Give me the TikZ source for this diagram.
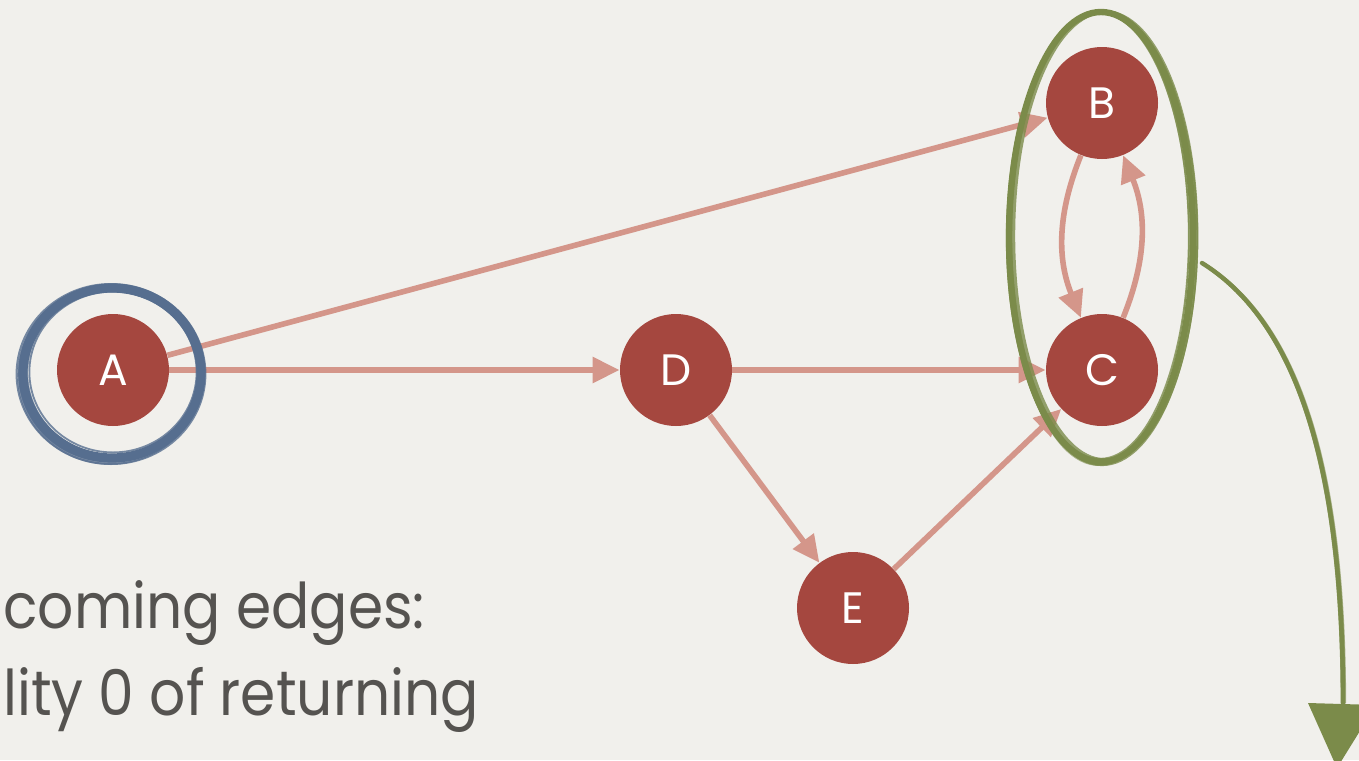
\documentclass[tikz,border=0pt]{standalone}
\usepackage{fontspec}
\setmainfont{Poppins}
\newfontfamily\captionfont{Poppins}[FakeStretch=0.9]
\usetikzlibrary{arrows.meta}
\definecolor{paper}{RGB}{241,240,236}
\definecolor{nodered}{RGB}{165,71,63}
\definecolor{edgepink}{RGB}{212,150,138}
\definecolor{ringblue}{RGB}{86,110,143}
\definecolor{brushgreen}{RGB}{123,139,74}
\definecolor{ink}{RGB}{85,83,80}
\tikzset{
  vertex/.style={circle, fill=nodered, minimum size=56pt, inner sep=0pt,
    text=white, font=\fontsize{22}{22}\selectfont},
  link/.style={draw=edgepink, line width=2.8pt,
    -{Triangle[length=13.5pt,width=12.5pt]}},
  caption/.style={anchor=base west, text=ink, inner sep=0pt,
    font=\captionfont\fontsize{31.5}{31.5}\selectfont},
}
\begin{document}
\begin{tikzpicture}[x=0.5pt,y=-0.5pt]
  % paper background and page frame
  \fill[paper] (0,0) rectangle (1359,760);
  \useasboundingbox (0,0) rectangle (1359,760);
  \clip (0,0) rectangle (1359,760);

  % graph nodes
  \node[vertex] (A) at (113,370) {A};
  \node[vertex] (D) at (676,370) {D};
  \node[vertex] (B) at (1102,103) {B};
  \node[vertex] (C) at (1102,370) {C};
  \node[vertex] (E) at (853,608) {E};

  % directed edges
  \draw[link] (A) -- (B);
  \draw[link] (A) -- (D);
  \draw[link] (D) -- (C);
  \draw[link] (D) -- (E);
  \draw[link] (E) -- (C);
  \draw[link] (B) to[bend right=22] (C);
  \draw[link] (C) to[bend right=22] (B);

  % caption lines
  \node[caption] (t1) at (3,628) {coming edges:};
  \node[caption] (t2) at (3,715) {lity 0 of returning};

  % blue brush ring around A
  \foreach \dx/\dy/\rx/\ry/\w/\o in {
      0/0/44.5/42.5/4.6/1,
      -1/1/47.2/45.0/1.0/0.8,
      1/-1/41.8/40.2/0.9/0.8,
      -2/2/45.5/44/1.8/0.7,
      2/0/43.5/41.5/1.2/0.6,
      -3/1/44.8/43.4/1.2/0.7}
    \draw[ringblue, line width=\w pt, opacity=\o]
      (112+\dx,373+\dy) ellipse [x radius=\rx pt, y radius=\ry pt];

  % green brush loop around B and C
  \foreach \dx/\dy/\rx/\ry/\w/\o in {
      0/0/46/112.5/3.2/1,
      1/1/47.6/113.6/0.9/0.8,
      -1/-1/44.4/111.4/0.9/0.8,
      4/-1/45.8/112/1.8/0.8,
      -2/2/45.2/113/1.0/0.6}
    \draw[brushgreen, line width=\w pt, opacity=\o]
      (1101+\dx,237+\dy) ellipse [x radius=\rx pt, y radius=\ry pt];

  % green brush arrow leaving the loop
  \coordinate (g0) at (1202,263);
  \coordinate (g1) at (1343,703);
  \foreach \dx/\w/\o in {0/2.2/1, 1.5/0.9/0.8, -1.5/0.9/0.8, 2.5/0.6/0.6}
    \draw[brushgreen, line width=\w pt, opacity=\o, line cap=round]
      ([xshift=\dx*0.5pt]g0) .. controls (1290+\dx,318) and (1343+\dx,450) .. ([xshift=\dx*0.5pt]g1);
  \fill[brushgreen] (1308,703) -- (1376,705) -- (1337,768) -- cycle;
\end{tikzpicture}
\end{document}
